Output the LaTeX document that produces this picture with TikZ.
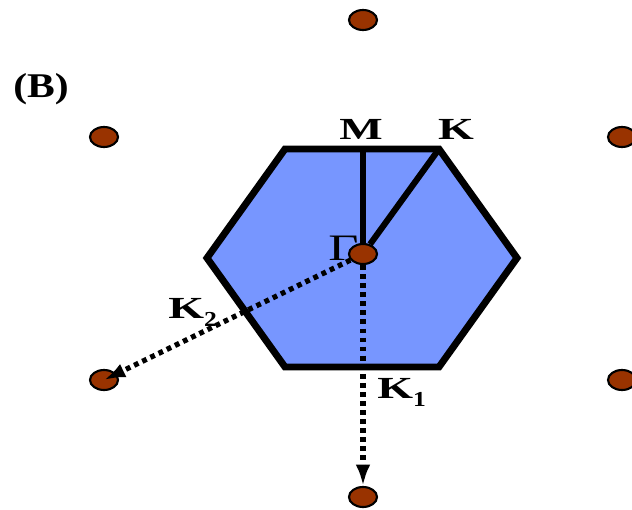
\documentclass[tikz,border=0pt]{standalone}
\usepackage{fontspec}
\setmainfont{Liberation Serif}
\usepackage{graphicx}
\usepackage{tikz}
\usetikzlibrary{shapes.geometric, arrows.meta}
\definecolor{sitebrown}{RGB}{153,51,0}
\definecolor{zoneblue}{RGB}{119,150,255}
\newcommand{\wlbl}[2][1.5]{\scalebox{#1}[1]{#2}}
\newcommand{\ksub}[1]{\raisebox{-6.5pt}{\fontsize{16}{18}\selectfont #1}}

\begin{document}
\begin{tikzpicture}[x=0.75pt, y=-0.75pt,
    site/.style={ellipse, draw=black, line width=1.6pt, fill=sitebrown,
      minimum width=21pt, minimum height=15pt, inner sep=0pt},
    zone/.style={draw=black, line width=5.2pt, fill=zoneblue, miter limit=10},
    spoke/.style={line width=4.6pt},
    kpath/.style={line width=3.9pt, dash pattern=on 3.6pt off 3.2pt,
      -{Latex[length=16pt, width=11pt]}},
    lbl/.style={font=\fontsize{23}{26}\selectfont\bfseries, inner sep=0pt}]
  \useasboundingbox (0,0) rectangle (632,510);
  % Zone de Brillouin
  \coordinate (h1) at (285,149);
  \coordinate (h2) at (439,149);
  \coordinate (h3) at (517,258);
  \coordinate (h4) at (439,367);
  \coordinate (h5) at (285,367);
  \coordinate (h6) at (207,258);
  \coordinate (M) at (363,149);
  \draw[zone] (h1) -- (h2) -- (h3) -- (h4) -- (h5) -- (h6) -- cycle;
  % Points du reseau
  \foreach \x/\y/\name in {363/20/top, 104/137/ul, 622/137/ur, 104/380/ll, 622/380/lr, 363/497/bot} {
    \node[site] (s\name) at (\x,\y) {};
  }
  \node[font=\fontsize{28}{30}\selectfont, inner sep=0pt, anchor=base west] (gl) at (328,260) {\wlbl[1.4]{Γ}};
  \node[site] (g) at (363,254) {};
  % Chemins
  \draw[spoke] (g) -- (M);
  \draw[spoke] (g) -- (h2);
  \draw[kpath] (g) -- (sll.center);
  \draw[kpath] (g) -- (sbot);
  % Etiquettes
  \node[lbl, anchor=base] (lM) at (361,139) {\wlbl{M}};
  \node[lbl, anchor=base] (lK) at (456,139) {\wlbl{K}};
  \node[lbl, anchor=base west] (lK2) at (168,318) {\wlbl{K}\ksub{\wlbl[1.2]{2}}};
  \node[lbl, anchor=base west] (lK1) at (377,398) {\wlbl{K}\ksub{\wlbl[1.2]{1}}};
  \node[font=\fontsize{26}{28}\selectfont\bfseries, inner sep=0pt, anchor=base west] (lB) at (13,98) {\wlbl[1.2]{(B)}};
\end{tikzpicture}
\end{document}
